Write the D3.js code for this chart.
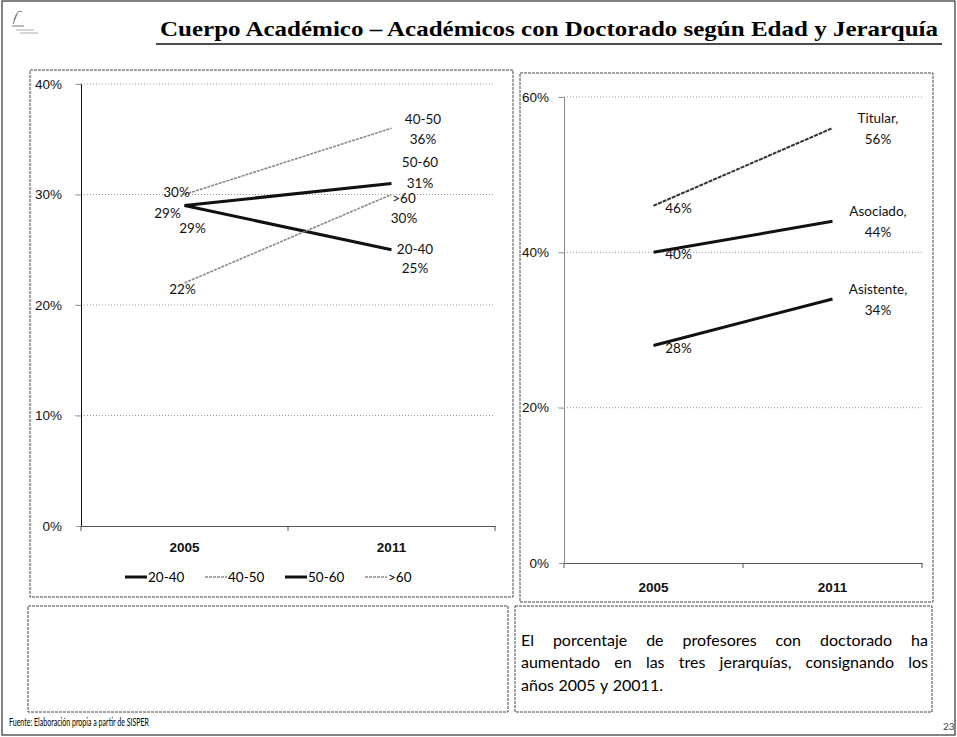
<!DOCTYPE html>
<meta charset="utf-8">
<style>
    body { margin: 0; background: #fff; }
    svg { display: block; font-family: Lato, "Open Sans", sans-serif; }
    .tick text { font-size: 13.5px; fill: #111; }
    .grid line { stroke: #999; stroke-dasharray: 1, 2; }
    .frame { fill: none; stroke: #444; stroke-dasharray: 3, 1; }
    .lbl { font-size: 13.5px; fill: #111; text-anchor: middle; dominant-baseline: central; }
</style>
<svg width="957" height="737"></svg>
<script src="https://cdn.jsdelivr.net/npm/d3@7"></script>
<script>

    var years = ["2005", "2011"];

    var ageGroups = ["20-40", "40-50", "50-60", ">60"];
    var age2040 = [29, 25];
    var age4050 = [30, 36];
    var age5060 = [29, 31];
    var ageOver60 = [22, 30];
    var ageTicks = [0, 10, 20, 30, 40];

    var ranks = ["Titular", "Asociado", "Asistente"];
    var titular = [46, 56];
    var asociado = [40, 44];
    var asistente = [28, 34];
    var rankTicks = [0, 20, 40, 60];

    var svg = d3.select("svg");

    // page frame, logo, title
    svg.append("rect").attr("x", 2).attr("y", 1).attr("width", 953).attr("height", 734)
        .attr("fill", "none").attr("stroke", "#333").attr("stroke-width", 1.2);
    var logo = svg.append("g").attr("stroke", "#777").attr("fill", "none");
    logo.append("path").attr("d", "M14,20 Q18,8 22,12 M13,24 L17,14 M12,26 L24,26");
    logo.append("path").attr("d", "M16,30 L34,30 M20,33 L38,33").attr("stroke", "#aaa");

    svg.append("text")
        .attr("x", 160).attr("y", 36)
        .attr("textLength", 778).attr("lengthAdjust", "spacingAndGlyphs")
        .style("font", "bold 22px 'Liberation Serif', 'DejaVu Serif', serif")
        .text("Cuerpo Académico – Académicos con Doctorado según Edad y Jerarquía");
    svg.append("line").attr("x1", 156).attr("x2", 942).attr("y1", 44).attr("y2", 44)
        .attr("stroke", "#111").attr("stroke-width", 1.5);

    // panels
    svg.append("rect").attr("class", "frame").attr("x", 30).attr("y", 70).attr("width", 483).attr("height", 527);
    svg.append("rect").attr("class", "frame").attr("x", 520).attr("y", 73).attr("width", 413).attr("height", 529);
    svg.append("rect").attr("class", "frame").attr("x", 28).attr("y", 606).attr("width", 480).attr("height", 106);
    svg.append("rect").attr("class", "frame").attr("x", 515).attr("y", 606).attr("width", 417).attr("height", 106);

    function drawChart(opt) {
        var x = d3.scaleBand().domain(years).range(opt.xRange);
        var y = d3.scaleLinear().domain(d3.extent(opt.ticks)).range(opt.yRange);
        var g = svg.append("g");

        g.append("g").attr("class", "grid")
            .selectAll("line").data(opt.ticks.slice(1)).enter().append("line")
            .attr("x1", opt.xRange[0] - 6).attr("x2", opt.xRange[1])
            .attr("y1", function (d) { return y(d); }).attr("y2", function (d) { return y(d); });

        var yAxis = g.append("g").attr("transform", "translate(" + opt.xRange[0] + ",0)")
            .call(d3.axisLeft(y).tickValues(opt.ticks).tickSize(5).tickPadding(opt.yPad)
                .tickFormat(function (d) { return d + "%"; }));
        yAxis.select(".domain").attr("stroke", opt.axisColor);
        yAxis.selectAll(".tick line").attr("stroke", "#999");

        var xAxis = g.append("g").attr("transform", "translate(0," + opt.yRange[0] + ")")
            .call(d3.axisBottom(x).tickSize(0).tickPadding(opt.xPad));
        xAxis.select(".domain").attr("stroke", "#555");
        xAxis.selectAll(".tick text").style("font-weight", "bold");
        var edges = [opt.xRange[0], x(years[1]), opt.xRange[1]];
        g.selectAll(".xt").data(edges).enter().append("line")
            .attr("x1", function (d) { return d; }).attr("x2", function (d) { return d; })
            .attr("y1", opt.yRange[0]).attr("y2", opt.yRange[0] + 5).attr("stroke", "#555");

        var cx = function (i) { return x(years[i]) + x.bandwidth() / 2; };
        var line = d3.line().x(function (d, i) { return cx(i); }).y(function (d) { return y(d); });

        opt.series.forEach(function (s) {
            g.append("path").datum(s.values).attr("d", line)
                .attr("fill", "none").attr("stroke", s.color).attr("stroke-width", s.width)
                .attr("stroke-dasharray", s.dash || null);
        });
        opt.series.forEach(function (s) {
            g.append("text").attr("class", "lbl")
                .attr("x", cx(0) + s.start[0]).attr("y", y(s.values[0]) + s.start[1])
                .text(s.values[0] + "%");
            g.append("text").attr("class", "lbl")
                .attr("x", s.end[0]).attr("y", y(s.values[1]) + s.end[1])
                .text(s.name + s.sep);
            g.append("text").attr("class", "lbl")
                .attr("x", s.end[0]).attr("y", y(s.values[1]) + s.end[2])
                .text(s.values[1] + "%");
        });
        return g;
    }

    var thick = { color: "#111", width: 3 };
    var thin = { color: "#8a8a8a", width: 1.6, dash: "3,1" };

    var ageSeries = [age2040, age4050, age5060, ageOver60].map(function (v, i) {
        var st = (i === 1 || i === 3) ? thin : thick;
        return { name: ageGroups[i], values: v, sep: "", color: st.color, width: st.width, dash: st.dash };
    });
    ageSeries[0].start = [8, 22];  ageSeries[0].end = [415, -1, 18];
    ageSeries[1].start = [-8, -3]; ageSeries[1].end = [423, -9, 11];
    ageSeries[2].start = [-17, 7]; ageSeries[2].end = [420, -21, 0];
    ageSeries[3].start = [-2, 6];  ageSeries[3].end = [404, 3, 23];

    var left = drawChart({
        xRange: [81, 495], yRange: [526, 84], ticks: ageTicks,
        axisColor: "#111", series: ageSeries, yPad: 14, xPad: 16
    });

    // legend
    var leg = left.append("g").attr("transform", "translate(125,577)");
    ageSeries.forEach(function (s, i) {
        var it = leg.append("g").attr("transform", "translate(" + i * 80 + ",0)");
        it.append("line").attr("x1", 0).attr("x2", 22)
            .attr("stroke", s.color).attr("stroke-width", s.width).attr("stroke-dasharray", s.dash || null);
        it.append("text").attr("x", 23).attr("dy", "0.35em").style("font-size", "13.5px").text(s.name);
    });

    var rankSeries = [titular, asociado, asistente].map(function (v, i) {
        return {
            name: ranks[i], values: v, sep: ",", color: i === 0 ? "#333" : "#111",
            width: i === 0 ? 2 : 3, dash: i === 0 ? "4,1" : null,
            start: [25, 2], end: [878, -10, 11]
        };
    });

    drawChart({
        xRange: [564, 922], yRange: [563, 97], ticks: rankTicks,
        axisColor: "#888", series: rankSeries, yPad: 10, xPad: 19
    });

    // comment box, justified
    var para = [
        "El porcentaje de profesores con doctorado ha",
        "aumentado en las tres jerarquías, consignando los",
        "años 2005 y 20011."
    ];
    var tx0 = 521, tx1 = 928;
    para.forEach(function (ln, i) {
        var words = ln.split(" ");
        var t = svg.append("g").style("font-size", "16px");
        var ws = words.map(function (w) {
            return t.append("text").attr("y", 640 + i * 22.5).attr("dy", "0.35em").text(w);
        });
        var widths = ws.map(function (n) { return n.node().getComputedTextLength(); });
        var total = d3.sum(widths);
        var gap = i < para.length - 1 ? (tx1 - tx0 - total) / (words.length - 1) : 4.5;
        var xx = tx0;
        ws.forEach(function (n, k) { n.attr("x", xx); xx += widths[k] + gap; });
    });

    // footer
    svg.append("text").attr("x", 9).attr("y", 726).attr("textLength", 140)
        .attr("lengthAdjust", "spacingAndGlyphs").style("font-size", "10.5px")
        .text("Fuente: Elaboración propia a partir de SISPER");
    svg.append("text").attr("x", 943).attr("y", 730).style("font-size", "10px").attr("fill", "#444").text("23");

</script>
